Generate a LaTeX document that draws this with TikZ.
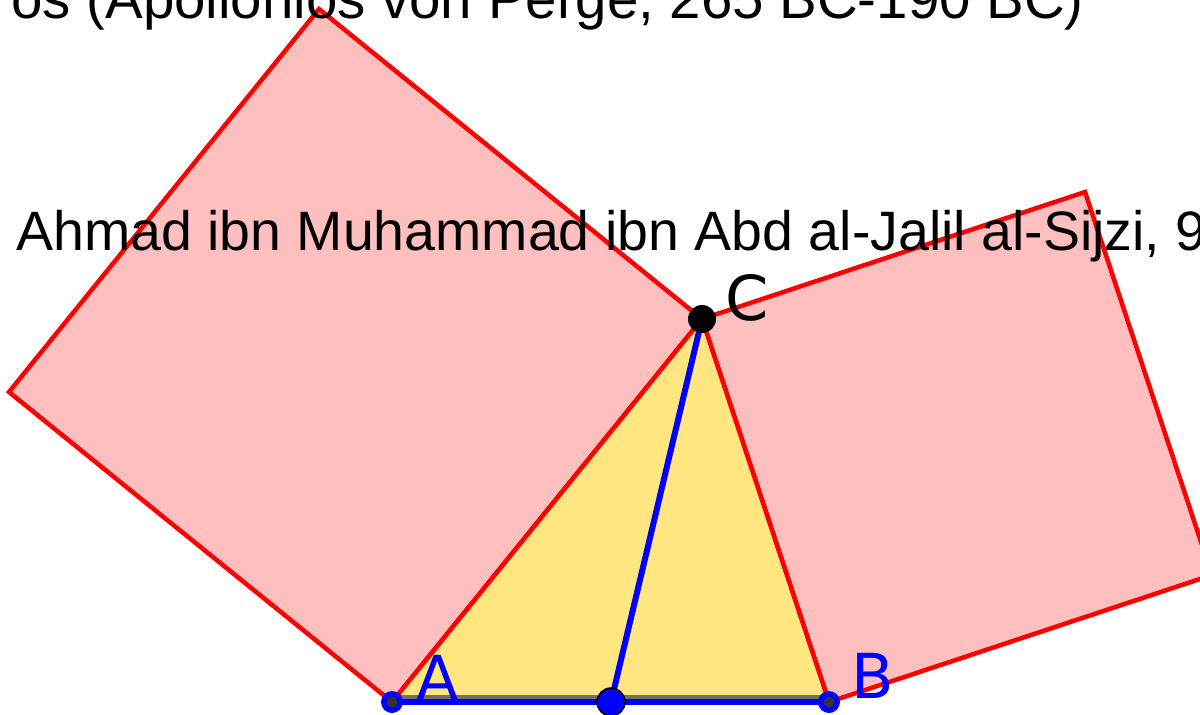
\documentclass[tikz,border=0pt]{standalone}
\usepackage{fontspec}
\setmainfont{Liberation Sans}
\newfontfamily\lblfont{DejaVu Sans}
\usetikzlibrary{calc}
\definecolor{sqfill}{RGB}{255,191,191}
\definecolor{trifill}{RGB}{255,230,128}
\definecolor{ptcore}{RGB}{51,51,51}
\definecolor{edgegray}{RGB}{120,110,100}
\tikzset{
  sqbox/.style={fill=sqfill, draw=red, line width=4.5pt, line join=miter},
  redseg/.style={draw=red, line width=4.5pt},
  blueseg/.style={draw=blue, line width=6pt},
  ptring/.style={circle, fill=blue, inner sep=0pt, minimum size=22pt},
  ptcorest/.style={circle, fill=ptcore, inner sep=0pt, minimum size=11pt},
  ptmid/.style={circle, fill=blue, draw=black, line width=1.5pt, inner sep=0pt, minimum size=28pt},
  ptC/.style={circle, fill=black, inner sep=0pt, minimum size=28pt},
  lbl/.style={font=\lblfont\fontsize{62}{62}\selectfont, inner sep=0pt, anchor=base west},
  title/.style={inner sep=0pt, text=black},
}
\begin{document}
\begin{tikzpicture}[x=1pt, y=-1pt]
\useasboundingbox (0,0) rectangle (1200,715);
\clip (0,0) rectangle (1200,715);
% geometry
\coordinate (A) at (392,702);
\coordinate (B) at (829,702);
\coordinate (C) at (702,319);
\coordinate (D) at (611,702);
\coordinate (A1) at ($(A)+(-383,-310)$);
\coordinate (C1) at ($(C)+(-383,-310)$);
\coordinate (B2) at ($(B)+(383,-127)$);
\coordinate (C2) at ($(C)+(383,-127)$);
% squares
\draw[sqbox] (A) -- (C) -- (C1) -- (A1) -- cycle;
\draw[sqbox] (C) -- (B) -- (B2) -- (C2) -- cycle;
% triangle
\fill[trifill] (A) -- (B) -- (C) -- cycle;
\draw[draw=edgegray, line width=4pt] ($(A)+(0,-5)$) -- ($(B)+(0,-5)$);
\draw[redseg] (A) -- (C);
\draw[redseg] (B) -- (C);
\draw[blueseg] (A) -- (B);
\draw[blueseg] (D) -- (C);
% points
\node[ptring] (Ap) at (A) {};
\node[ptcorest] at (A) {};
\node[ptring] (Bp) at (B) {};
\node[ptcorest] at (B) {};
\node[ptmid] (Dp) at (D) {};
\node[ptC] (Cp) at (C) {};
% labels
\node[lbl, text=blue] (La) at (416,700) {A};
\node[lbl, text=blue] (Lb) at (851,698) {B};
\node[lbl, text=black] (Lc) at (725,320) {C};
% texts
\node[title, font=\fontsize{56.4}{60}\selectfont, anchor=base east] (t1) at (1084,18) {os (Apollonios von Perge, 265 BC-190 BC)};
\node[title, font=\fontsize{55.5}{60}\selectfont, anchor=base west] (t2) at (16,250) {Ahmad ibn Muhammad ibn Abd al-Jalil al-Sijzi, 945-1020};
\end{tikzpicture}
\end{document}
